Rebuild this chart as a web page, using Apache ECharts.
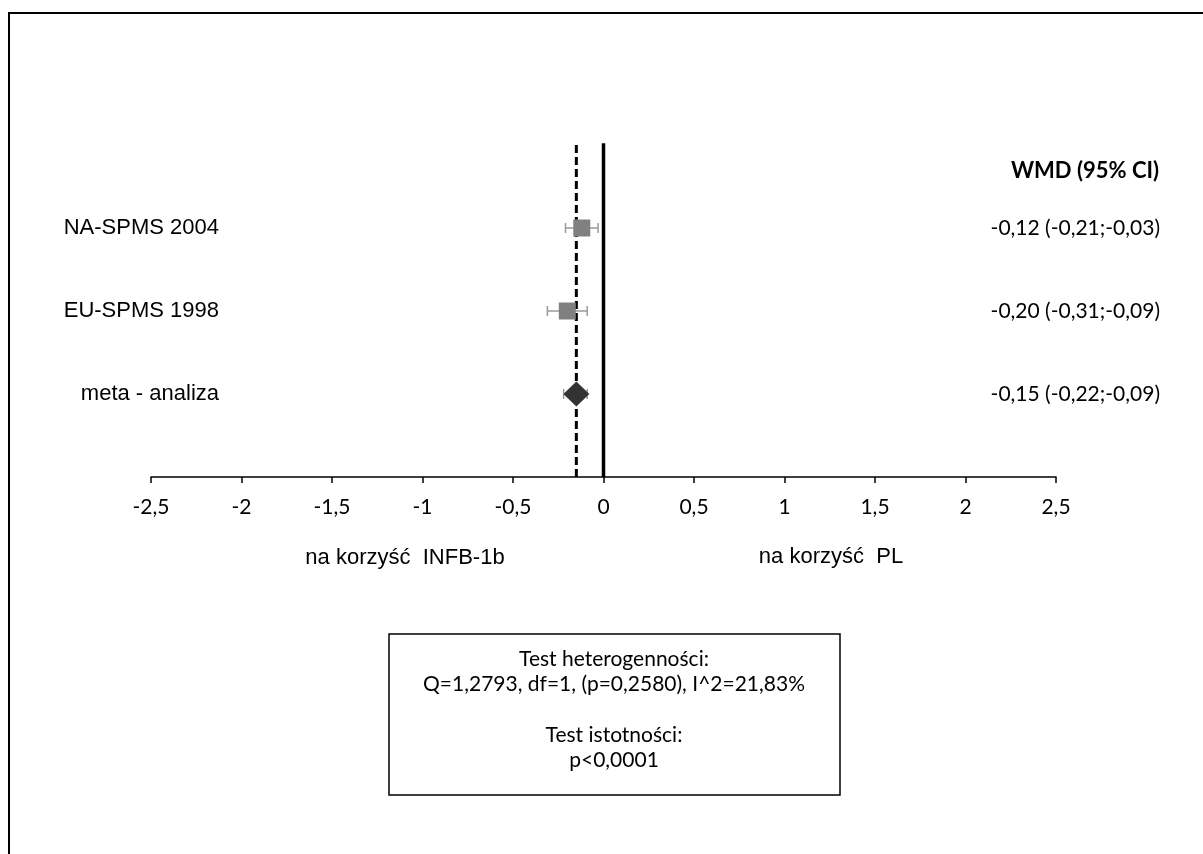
<!DOCTYPE html>
<html>
<head>
<meta charset="utf-8">
<script src="https://cdn.jsdelivr.net/npm/echarts@6/dist/echarts.min.js"></script>
<style>
  html, body { margin: 0; padding: 0; background: #fff; }
  #mychart { width: 1203px; height: 854px; }
</style>
</head>
<body>
<div id="mychart"></div>
<script>
// studies, top to bottom
var studyNames = ['NA-SPMS 2004', 'EU-SPMS 1998', 'meta - analiza'];
var studyRows = [3, 2, 1];
var wmd = [-0.12, -0.20, -0.15];
var ciLow = [-0.21, -0.31, -0.22];
var ciHigh = [-0.03, -0.09, -0.09];
var wmdText = ['-0,12 (-0,21;-0,03)', '-0,20 (-0,31;-0,09)', '-0,15 (-0,22;-0,09)'];
var pooled = -0.15;

var calibri = 'Lato, "Open Sans", sans-serif';
var arial = '"Liberation Sans", Arial, sans-serif';

function rowLabel(v, list) {
    var i = studyRows.indexOf(v);
    return i < 0 ? '' : list[i];
}

function fmtNum(v) {
    return String(v).replace('.', ',');
}

var errData = [];
for (let i = 0; i < studyRows.length; i++) {
    errData.push([ciLow[i], ciHigh[i], studyRows[i]]);
}
var squareData = [];
for (let i = 0; i < 2; i++) {
    squareData.push([wmd[i], studyRows[i]]);
}
var diamondData = [[wmd[2], studyRows[2]]];

var myChart = echarts.init(document.getElementById('mychart'));
var option = {
    animation: false,
    backgroundColor: '#fff',
    grid: { left: 151, right: 147, top: 145, bottom: 377 },
    xAxis: {
        type: 'value',
        min: -2.5,
        max: 2.5,
        interval: 0.5,
        splitLine: { show: false },
        axisLine: { lineStyle: { color: '#000', width: 1.5 } },
        axisTick: { length: 6, lineStyle: { color: '#000', width: 1.5 } },
        axisLabel: {
            margin: 20,
            color: '#000',
            fontSize: 21,
            fontFamily: calibri,
            formatter: function (v) { return fmtNum(v); }
        }
    },
    yAxis: [
        {
            type: 'value',
            min: 0,
            max: 4,
            interval: 1,
            position: 'left',
            splitLine: { show: false },
            axisLine: { show: false },
            axisTick: { show: false },
            axisLabel: {
                margin: -68,
                color: '#000',
                fontSize: 22,
                fontFamily: arial,
                formatter: function (v) { return rowLabel(v, studyNames); }
            }
        },
        {
            type: 'value',
            min: 0,
            max: 4,
            interval: 1,
            position: 'right',
            splitLine: { show: false },
            axisLine: { show: false },
            axisTick: { show: false },
            axisLabel: {
                margin: 104,
                align: 'right',
                color: '#000',
                fontSize: 21,
                fontFamily: calibri,
                formatter: function (v) { return rowLabel(v, wmdText); }
            }
        }
    ],
    series: [
        {
            // line of no effect
            type: 'line',
            data: [[0, 0], [0, 4.05]],
            symbol: 'none',
            lineStyle: { color: '#000', width: 3.5 },
            z: 2
        },
        {
            // pooled estimate
            type: 'line',
            data: [[pooled, 0], [pooled, 4.0]],
            symbol: 'none',
            lineStyle: { color: '#000', width: 3, type: [8, 4] },
            z: 2
        },
        {
            type: 'custom',
            data: errData,
            z: 3,
            renderItem: function (params, api) {
                var y = api.value(2);
                var p1 = api.coord([api.value(0), y]);
                var p2 = api.coord([api.value(1), y]);
                var h = 5;
                var st = { stroke: '#9a9a9a', lineWidth: 1.5 };
                return {
                    type: 'group',
                    children: [
                        { type: 'line', shape: { x1: p1[0], y1: p1[1], x2: p2[0], y2: p2[1] }, style: st },
                        { type: 'line', shape: { x1: p1[0], y1: p1[1] - h, x2: p1[0], y2: p1[1] + h }, style: st },
                        { type: 'line', shape: { x1: p2[0], y1: p2[1] - h, x2: p2[0], y2: p2[1] + h }, style: st }
                    ]
                };
            }
        },
        {
            type: 'scatter',
            data: squareData,
            symbol: 'rect',
            symbolSize: 17,
            itemStyle: { color: '#808080', opacity: 1 },
            z: 4
        },
        {
            type: 'scatter',
            data: diamondData,
            symbol: 'diamond',
            symbolSize: [26, 25],
            itemStyle: { color: '#333333', opacity: 1 },
            z: 4
        }
    ],
    graphic: [
        {
            type: 'rect',
            shape: { x: 9, y: 13, width: 1400, height: 1000 },
            style: { fill: null, stroke: '#000', lineWidth: 2 },
            silent: true
        },
        {
            type: 'text',
            x: 1159, y: 171,
            style: { text: 'WMD (95% CI)', align: 'right', verticalAlign: 'middle', font: 'bold 22px ' + calibri, fill: '#000' }
        },
        {
            type: 'text',
            x: 405, y: 558,
            style: { text: 'na korzyść  INFB-1b', align: 'center', verticalAlign: 'middle', font: '22px ' + arial, fill: '#000' }
        },
        {
            type: 'text',
            x: 831, y: 557,
            style: { text: 'na korzyść  PL', align: 'center', verticalAlign: 'middle', font: '22px ' + arial, fill: '#000' }
        },
        {
            type: 'rect',
            shape: { x: 389, y: 634, width: 451, height: 161 },
            style: { fill: '#fff', stroke: '#000', lineWidth: 1.5 }
        },
        {
            type: 'text',
            x: 614, y: 659,
            style: { text: 'Test heterogenności:', align: 'center', verticalAlign: 'middle', font: '21px ' + calibri, fill: '#000' }
        },
        {
            type: 'text',
            x: 614, y: 684,
            style: { text: 'Q=1,2793, df=1, (p=0,2580), I^2=21,83%', align: 'center', verticalAlign: 'middle', font: '21px ' + calibri, fill: '#000' }
        },
        {
            type: 'text',
            x: 614, y: 735,
            style: { text: 'Test istotności:', align: 'center', verticalAlign: 'middle', font: '21px ' + calibri, fill: '#000' }
        },
        {
            type: 'text',
            x: 614, y: 760,
            style: { text: 'p<0,0001', align: 'center', verticalAlign: 'middle', font: '21px ' + calibri, fill: '#000' }
        }
    ]
};
myChart.setOption(option);
</script>
</body>
</html>
